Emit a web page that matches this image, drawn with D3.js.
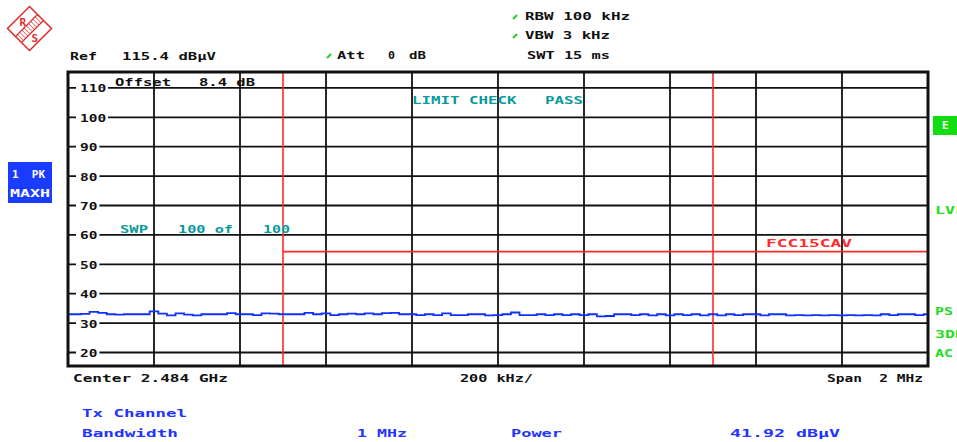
<!DOCTYPE html>
<html>
<head>
<meta charset="utf-8">
<script src="https://cdn.jsdelivr.net/npm/d3@7"></script>
<style>
  body { margin: 0; background: #fff; }
  text { font-family: "DejaVu Sans Mono", monospace; font-weight: bold; font-size: 11px; white-space: pre; }
</style>
</head>
<body>
<script>
const width = 957;
const height = 442;

// span 2483..2485 MHz, level axis in dBuV
const freqRange = [2483, 2485];
const levelRange = [15.4, 115.4];
const yTicks = [110, 100, 90, 80, 70, 60, 50, 40, 30, 20];
const markerFreqs = [2483.5, 2484.5];
const limitLine = [[2483.5, 54.3], [2485, 54.3]];

// max-hold trace, 101 points at 20 kHz steps
const traceLevels = [
  33.0, 33.0, 33.1, 33.8, 33.5, 33.0, 32.9, 33.0, 33.0, 33.0,
  34.0, 33.2, 32.6, 33.3, 32.9, 32.6, 33.0, 33.0, 33.0, 33.4,
  33.0, 33.0, 32.7, 33.3, 33.2, 33.0, 33.0, 33.0, 33.5, 33.0,
  33.3, 32.7, 33.0, 33.2, 33.0, 33.3, 33.0, 33.4, 33.5, 33.0,
  33.0, 32.7, 33.0, 32.7, 33.3, 32.7, 32.7, 33.0, 33.0, 32.6,
  32.7, 33.0, 33.6, 32.7, 32.7, 33.0, 32.7, 33.0, 32.7, 33.0,
  32.7, 33.0, 32.3, 32.4, 33.0, 33.0, 32.7, 33.0, 32.6, 33.0,
  32.6, 33.0, 32.7, 33.0, 32.6, 33.0, 32.6, 33.0, 32.7, 33.0,
  33.0, 32.6, 33.0, 33.0, 32.6, 32.7, 32.6, 32.7, 32.6, 32.7,
  32.6, 32.7, 32.6, 32.7, 32.6, 33.0, 32.7, 33.0, 33.0, 32.7,
  33.0
];
const traceFreqs = traceLevels.map((d, i) => 2483 + i * 0.02);

// text items: [text, x, baseline, width, colour]
const headerTexts = [
  ['Ref', 70, 60, 27, '#111'],
  ['115.4 dBµV', 122, 60, 94, '#111'],
  ['Att', 337, 59, 28, '#111'],
  ['0', 388, 59, 7, '#111'],
  ['dB', 409, 59, 17, '#111'],
  ['RBW 100 kHz', 525, 20, 105, '#111'],
  ['VBW 3 kHz', 525, 39, 85, '#111'],
  ['SWT 15 ms', 527, 59, 83, '#111'],
  ['Offset   8.4 dB', 115, 86, 140, '#111'],
  ['LIMIT CHECK   PASS', 412, 104, 171, '#0a9a9a'],
  ['SWP', 120, 233, 28, '#0a9a9a'],
  ['100 of', 178, 233, 55, '#0a9a9a'],
  ['100', 263, 233, 27, '#0a9a9a'],
  ['FCC15CAV', 766, 247, 86, '#ff2a2a'],
  ['LVL', 935, 214, 30, '#22dd22'],
  ['PS', 935, 315, 18, '#22dd22'],
  ['3DB', 935, 338, 30, '#22dd22'],
  ['AC', 935, 357, 18, '#22dd22'],
  ['Center 2.484 GHz', 73, 382, 155, '#111'],
  ['200 kHz/', 460, 382, 73, '#111'],
  ['Span  2 MHz', 827, 382, 96, '#111'],
  ['Tx Channel', 82, 417, 105, '#2233ff'],
  ['Bandwidth', 82, 437, 96, '#2233ff'],
  ['1 MHz', 357, 437, 50, '#2233ff'],
  ['Power', 511, 437, 51, '#2233ff'],
  ['41.92 dBµV', 730, 437, 110, '#2233ff']
];
const greenMarks = [[327, 56], [513, 17], [513, 36]];

const svg = d3.select('body').append('svg')
  .attr('width', width)
  .attr('height', height);

const x = d3.scaleLinear().domain(freqRange).range([68, 928]);
const y = d3.scaleLinear().domain(levelRange).range([366, 72]);

// grid
const grid = svg.append('g');
grid.selectAll('line.v')
  .data(d3.range(1, 10).map(i => 2483 + i * 0.2))
  .enter().append('line')
  .attr('x1', d => x(d)).attr('x2', d => x(d))
  .attr('y1', y.range()[1]).attr('y2', y.range()[0])
  .attr('stroke', '#111').attr('stroke-width', 1.8);
grid.selectAll('line.h')
  .data(yTicks)
  .enter().append('line')
  .attr('x1', x.range()[0]).attr('x2', x.range()[1])
  .attr('y1', d => y(d)).attr('y2', d => y(d))
  .attr('stroke', '#111').attr('stroke-width', 1.8);

// y labels with white knockout
const yl = svg.append('g');
yTicks.forEach(t => {
  const tx = yl.append('text')
    .attr('x', 80).attr('y', y(t) + 4.5)
    .attr('fill', '#111')
    .attr('textLength', String(t).length * 8.7)
    .attr('lengthAdjust', 'spacingAndGlyphs')
    .text(t);
  const b = tx.node().getBBox();
  yl.insert('rect', 'text')
    .attr('x', 76).attr('y', y(t) - 1.5)
    .attr('width', b.x + b.width - 76 + 2).attr('height', 3)
    .attr('fill', '#fff');
});

// limit + marker lines
svg.selectAll('line.marker')
  .data(markerFreqs)
  .enter().append('line')
  .attr('x1', d => x(d)).attr('x2', d => x(d))
  .attr('y1', y.range()[1]).attr('y2', y.range()[0])
  .attr('stroke', '#ff2a2a').attr('stroke-width', 1.6);
svg.append('path')
  .datum(limitLine)
  .attr('d', d3.line().x(d => x(d[0])).y(d => y(d[1])))
  .attr('stroke', '#ff2a2a').attr('stroke-width', 1.8).attr('fill', 'none');

// trace
svg.append('path')
  .datum(traceLevels)
  .attr('d', d3.line().x((d, i) => x(traceFreqs[i])).y(d => y(d)).curve(d3.curveStep))
  .attr('stroke', '#1030ff').attr('stroke-width', 1.8).attr('fill', 'none');

// frame
svg.append('rect')
  .attr('x', 68).attr('y', 72).attr('width', 860).attr('height', 294)
  .attr('fill', 'none').attr('stroke', '#111').attr('stroke-width', 3);

// texts
svg.selectAll('text.info')
  .data(headerTexts)
  .enter().append('text')
  .attr('x', d => d[1]).attr('y', d => d[2])
  .attr('fill', d => d[4])
  .attr('textLength', d => d[3])
  .attr('lengthAdjust', 'spacingAndGlyphs')
  .text(d => d[0]);

svg.selectAll('path.gm')
  .data(greenMarks)
  .enter().append('path')
  .attr('d', d => `M${d[0]},${d[1] + 2} L${d[0] + 4},${d[1] - 2}`)
  .attr('stroke', '#22cc22').attr('stroke-width', 2);

// trace info box
svg.append('rect').attr('x', 8).attr('y', 162).attr('width', 44).attr('height', 41).attr('fill', '#1a3cff');
svg.append('text').attr('x', 12).attr('y', 178).attr('fill', '#fff').attr('font-size', 9).text('1  PK');
svg.append('text').attr('x', 10).attr('y', 197).attr('fill', '#fff').attr('font-size', 9)
  .attr('textLength', 40).attr('lengthAdjust', 'spacingAndGlyphs').text('MAXH');
svg.append('rect').attr('x', 933).attr('y', 116).attr('width', 24).attr('height', 19).attr('fill', '#11dd11');
svg.append('text').attr('x', 942).attr('y', 129).attr('fill', '#fff').attr('font-size', 9).text('E');

// logo
const logo = svg.append('g').attr('transform', 'translate(29.5,28.5)');
logo.append('path').attr('d', 'M0,-22 L22,0 L0,22 L-22,0 Z')
  .attr('fill', 'none').attr('stroke', '#e02a2a').attr('stroke-width', 1.5);
logo.append('path').attr('d', 'M8,-14 L-14,8 M14,-8 L-8,14')
  .attr('stroke', '#e02a2a').attr('stroke-width', 1.2);
logo.selectAll('line.h').data(d3.range(-9, 10, 2.2)).enter().append('line')
  .attr('x1', d => d - 3).attr('y1', d => -d - 3).attr('x2', d => d + 3).attr('y2', d => -d + 3)
  .attr('stroke', '#e02a2a').attr('stroke-width', 0.8);
logo.append('text').attr('x', -10).attr('y', -3).attr('fill', '#e02a2a').attr('font-size', 11)
  .attr('font-weight', 'normal').text('R');
logo.append('text').attr('x', 2).attr('y', 13).attr('fill', '#e02a2a').attr('font-size', 11)
  .attr('font-weight', 'normal').text('S');
</script>
</body>
</html>
